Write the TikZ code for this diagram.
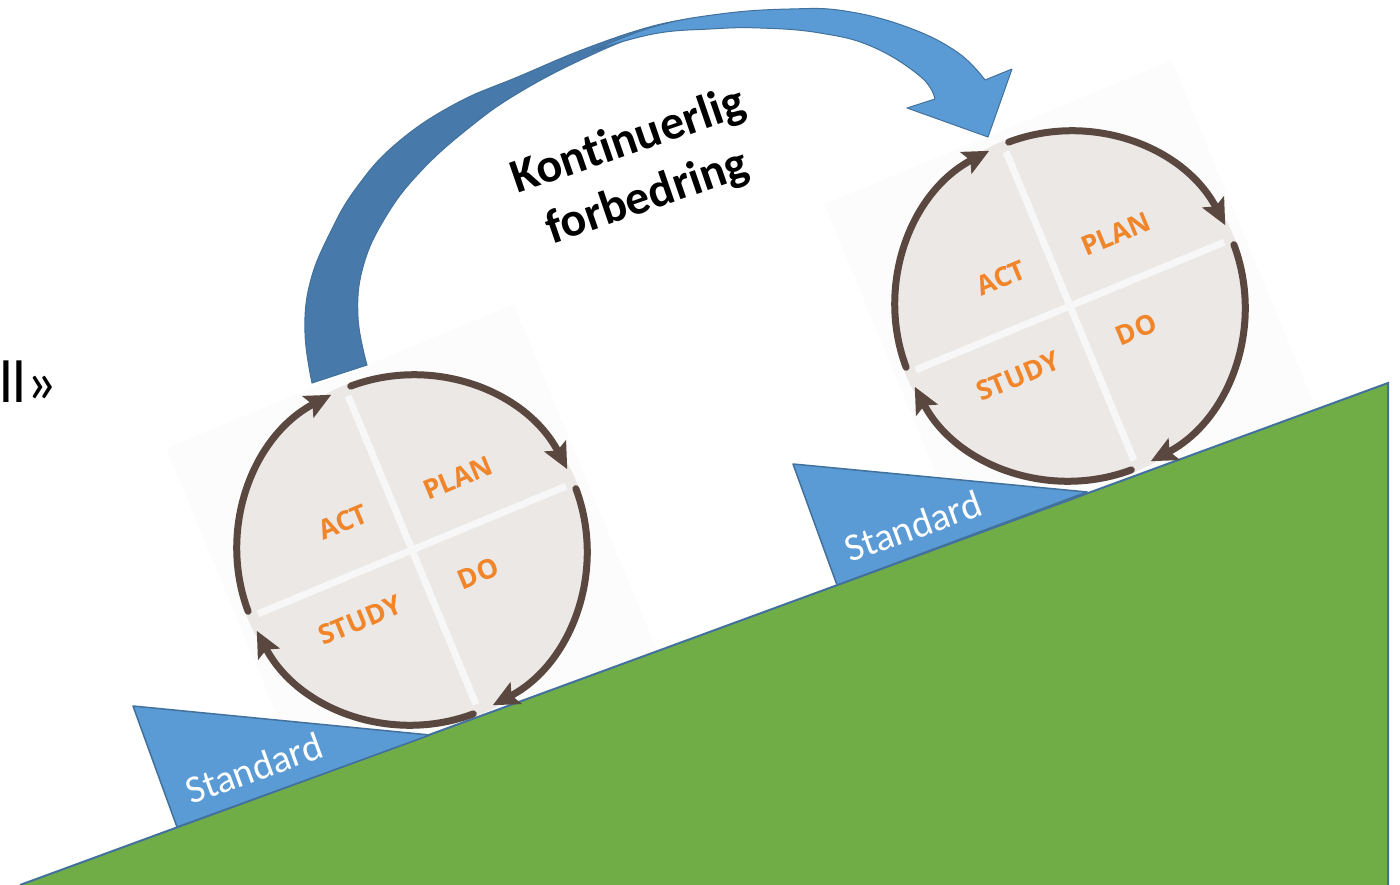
\documentclass[tikz,border=0pt]{standalone}
\usepackage{fontspec}
\setmainfont{Carlito}[Ligatures=NoCommon]
\newfontfamily\wheelfont{Open Sans}
\usetikzlibrary{arrows.meta}

\definecolor{groundgreen}{HTML}{70AD47}
\definecolor{shapeblue}{HTML}{5B9BD5}
\definecolor{backblue}{HTML}{4779AA}
\definecolor{edgeblue}{HTML}{41719C}
\definecolor{ringbrown}{HTML}{5A4740}
\definecolor{discgray}{HTML}{EBE8E6}
\definecolor{pdsaorange}{HTML}{F0852A}

\tikzset{
  sheet/.style={fill=black!1},
  wheelface/.style={circle, fill=discgray, minimum size=356pt, inner sep=0pt},
  divider/.style={draw=white!97!black, line width=7pt},
  cyclearc/.style={draw=ringbrown, line width=7pt, line cap=round, -{Stealth[length=26pt,width=24pt,inset=5pt]}},
  steplabel/.style={text=pdsaorange, font=\wheelfont\bfseries\fontsize{27}{27}\selectfont, transform shape},
  standardbox/.style={fill=shapeblue, draw=edgeblue, line width=1.5pt, line join=round},
  standardtext/.style={text=white, rotate=20, font=\fontsize{39}{39}\selectfont},
}

\begin{document}
\begin{tikzpicture}[x=1pt, y=-1pt]
\useasboundingbox (0,0) rectangle (1400,885);

% faint sheets behind the wheels
\foreach \x/\y in {412/550, 1070/306}
  \fill[sheet, shift={(\x,\y)}, rotate=22.5] (-188pt,-188pt) rectangle (188pt,188pt);

% the slope
\coordinate (foot) at (20,885);
\coordinate (peak) at (1388,383);
\coordinate (base) at (1388,885);
\fill[groundgreen] (foot) -- (peak) -- (base) -- cycle;
\draw[edgeblue, line width=2pt] (foot) -- (peak) -- (base);

% wedges holding the wheels
\draw[standardbox] (133,706) -- (177,827) -- (430,735) -- cycle;
\draw[standardbox] (793,464) -- (837,585) -- (1087,492) -- cycle;
\node[standardtext] (stdA) at (254,768) {Standard};
\node[standardtext] (stdB) at (913,526) {Standard};

% PDSA wheels
\foreach \w/\x/\y in {wheelA/412/550, wheelB/1070/306}{
  \begin{scope}[shift={(\x,\y)}, rotate=22.5]
    \node[wheelface] (\w) at (0,0) {};
    \draw[divider] (0pt,167pt) -- (0pt,-167pt);
    \draw[divider] (-167pt,0pt) -- (167pt,0pt);
    \foreach \a in {0,90,180,270}
      \draw[cyclearc] (\a+88:175pt) arc[start angle=\a+88, end angle=\a+5, radius=175pt];
    \node[steplabel] (\w-plan) at (70pt,49pt) {PLAN};
    \node[steplabel] (\w-act) at (-53pt,52pt) {ACT};
    \node[steplabel] (\w-do) at (52pt,-47pt) {DO};
    \node[steplabel] (\w-study) at (-75pt,-45pt) {STUDY};
  \end{scope}
}

% big curved arrow, back part
\filldraw[fill=backblue, draw=edgeblue, line width=1pt]
  plot[smooth, tension=0.7] coordinates {(312,383) (305,333) (310,283) (330,233) (357,187) (397,143) (455,104) (520,76) (587,48) (653,26) (702,17)}
  -- plot[smooth, tension=0.7] coordinates {(702,17) (653,30) (587,57) (520,92) (470,127) (420,172) (385,218) (363,267) (358,317) (367,365)}
  -- cycle;
% front part with the head
\filldraw[fill=shapeblue, draw=edgeblue, line width=1pt, line join=round]
  plot[smooth, tension=0.7] coordinates {(592,51) (653,27) (720,14) (790,9) (845,11) (907,27) (957,52) (985,80)}
  -- (1012,69) -- (988,137) -- (907,108) -- (935,99)
  -- plot[smooth, tension=0.7] coordinates {(935,99) (921,77) (873,47) (820,33) (760,28) (710,29) (653,34) (592,51)}
  -- cycle;

\node[rotate=19, align=center, font=\bfseries\fontsize{48}{59}\selectfont] (kaizen) at (638,170) {Kontinuerlig\\forbedring};

\node[anchor=base west, inner sep=0pt, font=\fontsize{60}{60}\selectfont] (cut) at (-1,402) {ll»};

\end{tikzpicture}
\end{document}
